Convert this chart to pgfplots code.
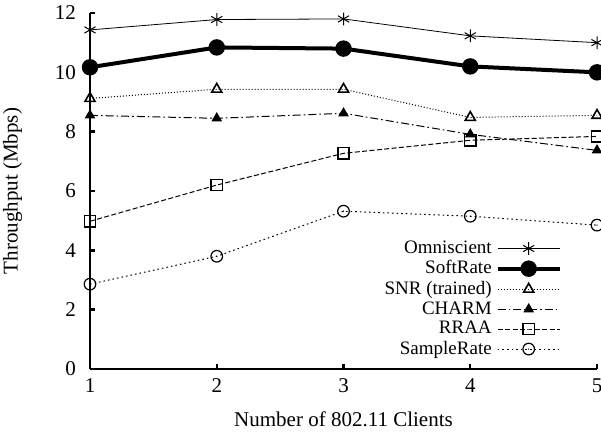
\documentclass[border=0pt]{standalone}
\usepackage{fontspec}
\setmainfont{Liberation Serif}
\usepackage{pgfplots}
\pgfplotsset{compat=1.18}
\pgfdeclareplotmark{odot}{%
  \pgfpathcircle{\pgfpointorigin}{\pgfplotmarksize}\pgfusepathqstroke
  \pgfpathcircle{\pgfpointorigin}{0.35pt}\pgfusepathqfill}
\begin{document}
\begin{tikzpicture}
\begin{axis}[
  name=ax,
  scale only axis, width=253.5pt, height=178pt,
  xmin=1, xmax=5, ymin=0, ymax=12,
  xtick={1,2,3,4,5}, ytick={0,2,4,6,8,10,12},
  axis x line*=bottom, axis y line*=left,
  axis line style={line width=1.4pt, -},
  tick style={line width=1.2pt, black}, major tick length=2.5pt,
  tick align=inside,
  ticklabel style={font=\fontsize{10.5}{12}\selectfont},
  yticklabel style={xshift=-3.5pt},
  xticklabel style={yshift=-1.2pt},
  label style={font=\fontsize{10.5}{12}\selectfont},
  xlabel style={yshift=-2.8pt},
  ylabel style={yshift=9.5pt},
  /pgf/number format/assume math mode=true,
  xlabel={Number of 802.11 Clients}, ylabel={Throughput (Mbps)},
  clip=false,
  legend style={draw=none, fill=none, at={(0.943,0.384)}, anchor=north east,
    font=\fontsize{9.5}{10}\selectfont, legend cell align=right, row sep=-1.9pt},
  legend plot pos=right,
  legend image code/.code={\draw[mark repeat=2,mark phase=2] plot coordinates {(0pt,0pt)(15.5pt,0pt)(31pt,0pt)};},
]
\addplot[black, line width=0.4pt, mark=asterisk, mark size=3.2pt, mark options={solid, line width=0.5pt}]
  coordinates {(1,11.43)(2,11.78)(3,11.8)(4,11.23)(5,11.0)};
\addlegendentry{Omniscient}
\addplot[black, line width=2pt, mark=*, mark size=3.1pt, mark options={solid}]
  coordinates {(1,10.17)(2,10.84)(3,10.8)(4,10.2)(5,10.0)};
\addlegendentry{SoftRate}
\addplot[black, line width=0.5pt, densely dotted, mark=triangle, mark size=2.9pt, mark options={solid, line width=0.8pt}]
  coordinates {(1,9.12)(2,9.43)(3,9.43)(4,8.48)(5,8.55)};
\addlegendentry{SNR (trained)}
\addplot[black, line width=0.5pt, dash pattern=on 4pt off 1.5pt on 0.8pt off 1.5pt, mark=triangle*, mark size=2.6pt, mark options={solid}]
  coordinates {(1,8.55)(2,8.45)(3,8.62)(4,7.91)(5,7.37)};
\addlegendentry{CHARM}
\addplot[black, line width=0.5pt, dash pattern=on 2.5pt off 1.2pt, mark=square, mark size=2.8pt, mark options={solid, line width=0.7pt}]
  coordinates {(1,4.98)(2,6.2)(3,7.27)(4,7.71)(5,7.84)};
\addlegendentry{RRAA}
\addplot[black, line width=0.5pt, dash pattern=on 0.8pt off 1.5pt, mark=odot, mark size=2.9pt, mark options={solid, line width=0.6pt}]
  coordinates {(1,2.86)(2,3.8)(3,5.32)(4,5.15)(5,4.85)};
\addlegendentry{SampleRate}
\end{axis}
\pgfresetboundingbox
\path[use as bounding box] (ax.south west) ++(-45pt,-33pt) rectangle ([shift={(2pt,6.5pt)}]ax.north east);
\end{tikzpicture}
\end{document}
